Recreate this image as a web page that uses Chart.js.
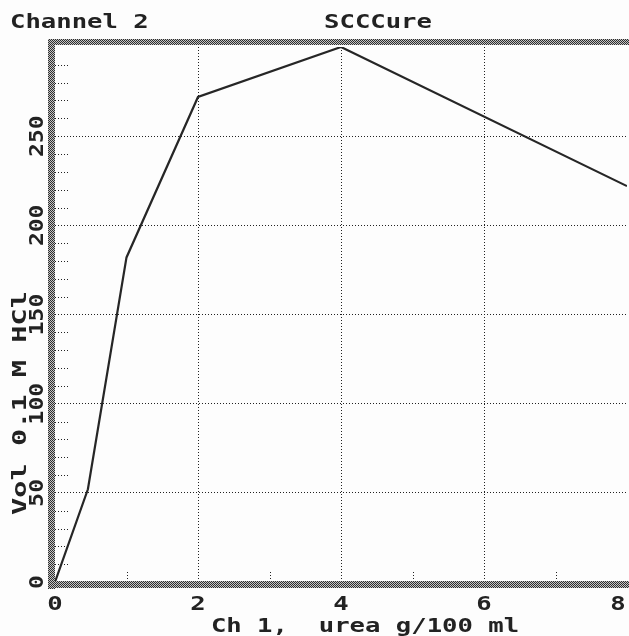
<!DOCTYPE html>
<html>
<head>
<meta charset="utf-8">
<script src="https://cdn.jsdelivr.net/npm/chart.js@4/dist/chart.umd.min.js"></script>
<style>
  html, body { margin: 0; padding: 0; background: #fdfdfd; }
  canvas { display: block; }
</style>
</head>
<body>
<canvas id="chart" width="629" height="636"></canvas>
<script>
// urea concentration (g/100 ml) vs volume of 0.1 M HCl
const ureaX = [0, 0.46, 1.0, 2, 4, 8];
const hclVol = [0, 52, 182, 272, 300, 222];

const xTickLabels = ['0', '2', '4', '6', '8'];
const yTickLabels = ['0', '50', '100', '150', '200', '250'];

const topLeftLabel = 'Channel 2';
const chartTitle = 'SCCCure';
const xTitle = 'Ch 1,  urea g/100 ml';
const yTitle = 'Vol 0.1 M HCl';

const INK = '#222';
const FONT = 'bold 20px "DejaVu Sans Mono"';

// checkered band like the old plotter frame
const pc = document.createElement('canvas');
pc.width = 4; pc.height = 4;
const pctx = pc.getContext('2d');
pctx.fillStyle = '#c4c4c4';
pctx.fillRect(0, 0, 4, 4);
pctx.fillStyle = '#2e2e2e';
for (let i = 0; i < 4; i++) {
  for (let j = 0; j < 4; j++) {
    if ((i + j) % 2 === 0) pctx.fillRect(i, j, 1, 1);
  }
}
const framePattern = pctx.createPattern(pc, 'repeat');

function stretchText(ctx, text, x, y, align, rot, sx) {
  ctx.save();
  ctx.translate(x, y);
  ctx.rotate(rot);
  ctx.scale(sx, 1);
  ctx.textAlign = align;
  ctx.textBaseline = 'alphabetic';
  ctx.fillText(text, 0, 0);
  ctx.restore();
}

const plotterDecor = {
  id: 'plotterDecor',
  afterDraw(chart) {
    const ctx = chart.ctx;
    const a = chart.chartArea;
    const xs = chart.scales.x;
    const ys = chart.scales.y;

    // short minor ticks inside the frame
    ctx.save();
    ctx.strokeStyle = INK;
    ctx.lineWidth = 1;
    ctx.setLineDash([1, 2]);
    for (let v = 10; v < 300; v += 10) {
      if (v % 50 === 0) continue;
      const py = Math.round(ys.getPixelForValue(v)) + 0.5;
      ctx.beginPath();
      ctx.moveTo(a.left, py);
      ctx.lineTo(a.left + 13, py);
      ctx.stroke();
    }
    for (let v = 1; v < 8; v += 2) {
      const px = Math.round(xs.getPixelForValue(v)) + 0.5;
      ctx.beginPath();
      ctx.moveTo(px, a.bottom);
      ctx.lineTo(px, a.bottom - 12);
      ctx.stroke();
    }
    ctx.restore();

    // frame: left, top, bottom bands
    ctx.save();
    ctx.fillStyle = framePattern;
    ctx.fillRect(a.left - 7, a.top - 8, 7, a.bottom - a.top + 15);
    ctx.fillRect(a.left - 7, a.top - 8, chart.width - a.left + 7, 6);
    ctx.fillRect(a.left - 7, a.bottom - 1, chart.width - a.left + 7, 7);
    ctx.restore();

    // texts
    ctx.save();
    ctx.fillStyle = INK;
    ctx.font = FONT;
    stretchText(ctx, topLeftLabel, 10, 28, 'left', 0, 1.28);
    stretchText(ctx, chartTitle, 378, 28, 'center', 0, 1.28);

    xTickLabels.forEach(t => {
      let px = xs.getPixelForValue(Number(t));
      px = Math.min(px, chart.width - 11);
      stretchText(ctx, t, px, 610, 'center', 0, 1.28);
    });
    stretchText(ctx, xTitle, 365, 632, 'center', 0, 1.28);

    yTickLabels.forEach(t => {
      const py = ys.getPixelForValue(Number(t));
      stretchText(ctx, t, 43, py, 'center', -Math.PI / 2, 1.15);
    });
    stretchText(ctx, yTitle, 26, 403, 'center', -Math.PI / 2, 1.43);
    ctx.restore();
  }
};

new Chart(document.getElementById('chart').getContext('2d'), {
  type: 'line',
  data: {
    datasets: [
      {
        label: 'SCCCure',
        data: ureaX.map((x, i) => ({ x: x, y: hclVol[i] })),
        borderColor: '#262626',
        borderWidth: 2.2,
        pointRadius: 0,
        tension: 0,
        fill: false,
      },
    ],
  },
  options: {
    responsive: false,
    animation: false,
    layout: {
      padding: { left: 55, top: 47, right: 2, bottom: 54 },
    },
    plugins: {
      legend: { display: false },
      title: { display: false },
      tooltip: { enabled: false },
    },
    scales: {
      x: {
        type: 'linear',
        min: 0,
        max: 8,
        ticks: { display: false, stepSize: 1 },
        grid: {
          drawTicks: false,
          lineWidth: 1,
          color: c => (c.tick && c.tick.value % 2 === 0 && c.tick.value > 0 && c.tick.value < 8) ? INK : 'rgba(0,0,0,0)',
        },
        border: { display: false, dash: [1, 2] },
      },
      y: {
        type: 'linear',
        min: 0,
        max: 300,
        ticks: { display: false, stepSize: 10 },
        grid: {
          drawTicks: false,
          lineWidth: 1,
          color: c => (c.tick && c.tick.value % 50 === 0 && c.tick.value > 0 && c.tick.value < 300) ? INK : 'rgba(0,0,0,0)',
        },
        border: { display: false, dash: [1, 2] },
      },
    },
  },
  plugins: [plotterDecor],
});
</script>
</body>
</html>
